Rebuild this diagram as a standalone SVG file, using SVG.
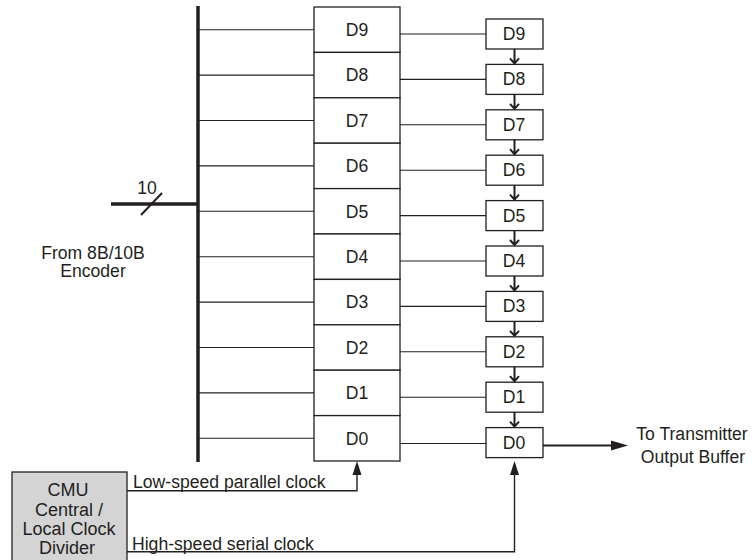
<svg xmlns="http://www.w3.org/2000/svg" width="752" height="560" viewBox="0 0 752 560">
<style>
text{font-family:"Liberation Sans",Arial,sans-serif;font-size:17.6px;fill:#231f20}
.m{text-anchor:middle}
.cmu{font-size:18px}
.reg{fill:#fff;stroke:#231f20;stroke-width:1.3}
.thin{stroke:#231f20;stroke-width:1.1;fill:none}
.thick{stroke:#231f20;stroke-width:3.5;fill:none}
.chain{stroke:#231f20;stroke-width:2;fill:none}
.clk{stroke:#231f20;stroke-width:1.4;fill:none}
.ah{fill:#231f20}
</style>
<rect width="752" height="560" fill="#fff"/>
<g id="bus">
<line class="thick" x1="198" y1="6" x2="198" y2="462"/>
<line class="thick" x1="111" y1="204" x2="198" y2="204"/>
<line class="chain" x1="141" y1="215" x2="162" y2="193"/>
<text x="147" y="194" class="m">10</text>
</g>
<g id="label-encoder">
<text x="93" y="259" class="m">From 8B/10B</text>
<text x="93" y="277" class="m">Encoder</text>
</g>
<g id="left-register">
<rect class="reg" x="314" y="7" width="86" height="45.4"/>
<rect class="reg" x="314" y="52.4" width="86" height="45.4"/>
<rect class="reg" x="314" y="97.8" width="86" height="45.4"/>
<rect class="reg" x="314" y="143.2" width="86" height="45.4"/>
<rect class="reg" x="314" y="188.6" width="86" height="45.4"/>
<rect class="reg" x="314" y="234" width="86" height="45.4"/>
<rect class="reg" x="314" y="279.4" width="86" height="45.4"/>
<rect class="reg" x="314" y="324.8" width="86" height="45.4"/>
<rect class="reg" x="314" y="370.2" width="86" height="45.4"/>
<rect class="reg" x="314" y="415.6" width="86" height="45.4"/>
<text x="357" y="36" class="m">D9</text>
<text x="357" y="81.4" class="m">D8</text>
<text x="357" y="126.8" class="m">D7</text>
<text x="357" y="172.2" class="m">D6</text>
<text x="357" y="217.6" class="m">D5</text>
<text x="357" y="263" class="m">D4</text>
<text x="357" y="308.4" class="m">D3</text>
<text x="357" y="353.8" class="m">D2</text>
<text x="357" y="399.2" class="m">D1</text>
<text x="357" y="444.6" class="m">D0</text>
</g>
<g id="right-register">
<rect class="reg" x="486" y="19" width="57" height="30"/>
<rect class="reg" x="486" y="64.4" width="57" height="30"/>
<rect class="reg" x="486" y="109.8" width="57" height="30"/>
<rect class="reg" x="486" y="155.2" width="57" height="30"/>
<rect class="reg" x="486" y="200.6" width="57" height="30"/>
<rect class="reg" x="486" y="246" width="57" height="30"/>
<rect class="reg" x="486" y="291.4" width="57" height="30"/>
<rect class="reg" x="486" y="336.8" width="57" height="30"/>
<rect class="reg" x="486" y="382.2" width="57" height="30"/>
<rect class="reg" x="486" y="427.6" width="57" height="30"/>
<text x="514" y="40" class="m">D9</text>
<text x="514" y="85.4" class="m">D8</text>
<text x="514" y="130.8" class="m">D7</text>
<text x="514" y="176.2" class="m">D6</text>
<text x="514" y="221.6" class="m">D5</text>
<text x="514" y="267" class="m">D4</text>
<text x="514" y="312.4" class="m">D3</text>
<text x="514" y="357.8" class="m">D2</text>
<text x="514" y="403.2" class="m">D1</text>
<text x="514" y="448.6" class="m">D0</text>
</g>
<g id="cmu">
<rect x="12" y="472" width="115" height="95" fill="#d4d4d4" stroke="#231f20" stroke-width="1.3"/>
<text x="68" y="495.5" class="m cmu">CMU</text>
<text x="69" y="516" class="m cmu">Central /</text>
<text x="69" y="535" class="m cmu">Local Clock</text>
<text x="67" y="553.5" class="m cmu">Divider</text>
</g>
<g id="label-output">
<text x="692" y="440" class="m">To Transmitter</text>
<text x="693" y="463" class="m">Output Buffer</text>
</g>
<g id="connectors">
<g class="thin">
<line x1="198" y1="29.7" x2="314" y2="29.7"/>
<line x1="198" y1="75.1" x2="314" y2="75.1"/>
<line x1="198" y1="120.5" x2="314" y2="120.5"/>
<line x1="198" y1="165.9" x2="314" y2="165.9"/>
<line x1="198" y1="211.3" x2="314" y2="211.3"/>
<line x1="198" y1="256.7" x2="314" y2="256.7"/>
<line x1="198" y1="302.1" x2="314" y2="302.1"/>
<line x1="198" y1="347.5" x2="314" y2="347.5"/>
<line x1="198" y1="392.9" x2="314" y2="392.9"/>
<line x1="198" y1="438.3" x2="314" y2="438.3"/>
<line x1="400" y1="34" x2="486" y2="34"/>
<line x1="400" y1="79.4" x2="486" y2="79.4"/>
<line x1="400" y1="124.8" x2="486" y2="124.8"/>
<line x1="400" y1="170.2" x2="486" y2="170.2"/>
<line x1="400" y1="215.6" x2="486" y2="215.6"/>
<line x1="400" y1="261" x2="486" y2="261"/>
<line x1="400" y1="306.4" x2="486" y2="306.4"/>
<line x1="400" y1="351.8" x2="486" y2="351.8"/>
<line x1="400" y1="397.2" x2="486" y2="397.2"/>
<line x1="400" y1="443.5" x2="486" y2="443.5"/>
</g>
<g class="chain">
<path d="M514.5 49V63.4M510 58.4L514.5 63.4L519 58.4"/>
<path d="M514.5 94.4V108.8M510 103.8L514.5 108.8L519 103.8"/>
<path d="M514.5 139.8V154.2M510 149.2L514.5 154.2L519 149.2"/>
<path d="M514.5 185.2V199.6M510 194.6L514.5 199.6L519 194.6"/>
<path d="M514.5 230.6V245M510 240L514.5 245L519 240"/>
<path d="M514.5 276V290.4M510 285.4L514.5 290.4L519 285.4"/>
<path d="M514.5 321.4V335.8M510 330.8L514.5 335.8L519 330.8"/>
<path d="M514.5 366.8V381.2M510 376.2L514.5 381.2L519 376.2"/>
<path d="M514.5 412.2V426.6M510 421.6L514.5 426.6L519 421.6"/>
<line x1="543" y1="445.5" x2="612" y2="445.5"/>
</g>
<path class="ah" d="M628 445.5L611 440.5L611 450.5Z"/>
<path class="clk" d="M127 490.7H357V472"/>
<path class="ah" d="M357 461L352.5 475H361.5Z"/>
<path class="clk" d="M127 551.7H514.5V472"/>
<path class="ah" d="M514.5 461L510 475H519Z"/>
<text x="133" y="488.3">Low-speed parallel clock</text>
<text x="132" y="550">High-speed serial clock</text>
</g>
</svg>
